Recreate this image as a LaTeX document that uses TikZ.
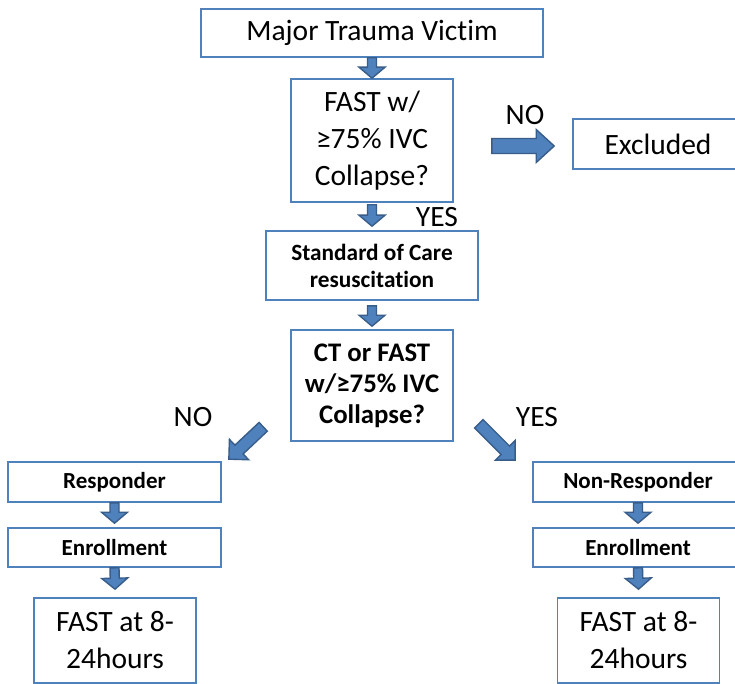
\documentclass[tikz,border=0pt]{standalone}
\usepackage{fontspec}
\setmainfont{Carlito}[Ligatures=NoCommon]
\usetikzlibrary{calc}
\definecolor{boxblue}{HTML}{4F81BD}
\definecolor{arrowedge}{HTML}{385D8A}
%% block arrow: #1 tail, #2 tip, #3 half shaft, #4 half head, #5 head length
\newcommand{\fatarrow}[5]{%
    \draw[fatarrow] let \p1=#1, \p2=#2, \p3=($(\p2)-(\p1)$),
        \n1={atan2(\y3,\x3)}, \n2={veclen(\x3,\y3)} in
        [shift={(\p1)},rotate=\n1] (0,#3) -- (\n2-#5,#3) -- (\n2-#5,#4) -- (\n2,0)
        -- (\n2-#5,-#4) -- (\n2-#5,-#3) -- (0,-#3) -- cycle;}
\begin{document}
\begin{tikzpicture}[x=1pt,y=-1pt,
        box/.style={draw=boxblue,line width=1.6pt,align=center,inner sep=0pt},
        big/.style={font=\fontsize{29.5}{37}\selectfont},
        fatarrow/.style={fill=boxblue,draw=arrowedge,line width=1.4pt,line join=miter}]
    \clip (0,0) rectangle (735,684);
    \fill[white] (0,0) rectangle (735,684);
    %% top of the chart
    \node[box,big,minimum width=342pt,minimum height=48pt] (victim) at (372,33) {Major Trauma Victim};
    \node[box,big,minimum width=162pt,minimum height=123pt] (fast) at (372,140.5) {FAST w/\\≥75\% IVC\\Collapse?};
    \node[box,big,minimum width=170pt,minimum height=50pt] (excluded) at (658,144) {Excluded};
    \node[box,font=\bfseries\fontsize{23.3}{27}\selectfont,minimum width=212pt,minimum height=69pt] (care) at (372,265.5) {Standard of Care\\resuscitation};
    \node[box,font=\bfseries\fontsize{26.8}{31}\selectfont,minimum width=162pt,minimum height=111pt] (ct) at (372,385.5) {CT or FAST\\w/≥75\% IVC\\Collapse?};
    %% two branches
    \foreach \side/\xc/\xf/\bw/\res in {l/114.5/115/213/Responder, r/638/638.5/210/Non-Responder} {
        \node[box,font=\bfseries\fontsize{23}{25}\selectfont,minimum width=\bw pt,minimum height=40pt] (resp\side) at (\xc,482) {\res};
        \node[box,font=\bfseries\fontsize{23}{25}\selectfont,minimum width=\bw pt,minimum height=39pt] (enrol\side) at (\xc,547.5) {Enrollment};
        \node[box,big,minimum width=162pt,minimum height=85pt] (later\side) at (\xf,640.5) {FAST at 8-\\24hours};
        \fatarrow{(resp\side.south)}{($(enrol\side.north)+(0,-4)$)}{4.5}{13}{11}
        \fatarrow{(enrol\side.south)}{($(later\side.north)+(0,-8)$)}{4.5}{13}{11}
    }
    %% answers
    \node[big] (no1) at (525,115) {NO};
    \node[big] (yes1) at (437,217) {YES};
    \node[big] (no2) at (193,417) {NO};
    \node[big] (yes2) at (537,417) {YES};
    %% arrows
    \fatarrow{(victim.south)}{(fast.north)}{4.5}{13}{11}
    \fatarrow{($(fast.south)+(0,2)$)}{($(care.north)+(0,-4)$)}{4.5}{13}{11}
    \fatarrow{($(care.south)+(0,5)$)}{($(ct.north)+(0,-3)$)}{4.5}{13}{11}
    \fatarrow{($(fast.east)+(38,5.5)$)}{($(excluded.west)+(-18,2)$)}{7.5}{16.5}{18}
    \fatarrow{($(ct.south west)+(-27,-15)$)}{($(respl.north east)+(7,-2)$)}{6}{14}{14}
    \fatarrow{($(ct.south east)+(25,-18)$)}{($(respr.north west)+(-17,-1)$)}{6}{14}{14}
\end{tikzpicture}
\end{document}
